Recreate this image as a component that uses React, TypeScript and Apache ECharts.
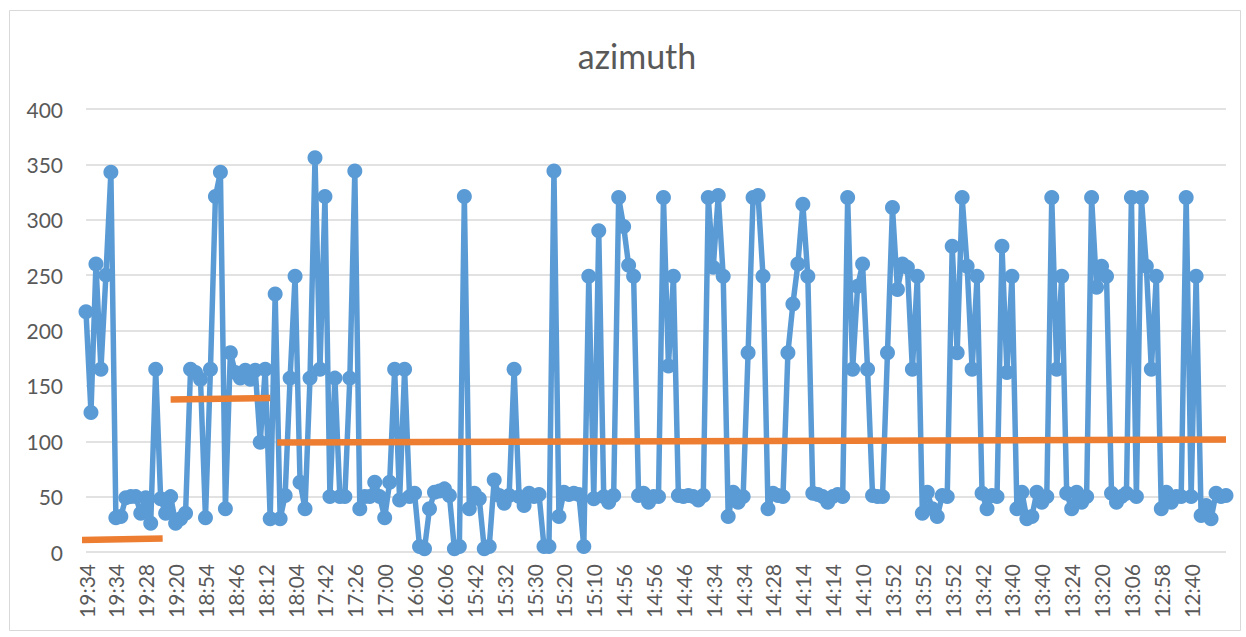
import React, { useEffect, useRef } from "react";
import * as echarts from "echarts";

const tickLabels = [
  "19:34", "19:34", "19:28", "19:20", "18:54", "18:46", "18:12", "18:04", "17:42", "17:26",
  "17:00", "16:06", "16:06", "15:42", "15:32", "15:30", "15:20", "15:10", "14:56", "14:56",
  "14:46", "14:34", "14:34", "14:28", "14:14", "14:14", "14:10", "13:52", "13:52", "13:52",
  "13:42", "13:40", "13:40", "13:24", "13:20", "13:06", "12:58", "12:40",
];
const tickEvery = 6;

const azimuthA = [
  217, 126, 260, 165, 250, 343, 31, 32, 49, 50, 50, 35, 49, 26, 165, 48, 35, 50, 26, 30,
  35, 165, 162, 156, 31, 165, 321, 343, 39, 180, 162, 157, 164, 156, 164, 99,
];
const azimuthB = [
  165, 30, 233, 30, 51, 157, 249, 63, 39, 157, 356, 165, 321, 50, 157, 50, 50, 157, 344, 39,
  50, 50, 63, 50, 31, 63, 165, 47, 165, 50, 53, 5, 3, 39, 54, 55, 57, 51, 3,
];
const azimuthC = [
  5, 321, 39, 53, 48, 3, 5, 65, 51, 44, 51, 165, 50, 42, 53, 50, 52, 5, 5, 344,
  32, 54, 52, 53, 52, 5, 249, 48, 290, 50, 45, 51, 320, 294, 259, 249, 51,
];
const azimuthD = [
  53, 45, 50, 50, 320, 168, 249, 51, 50, 51, 50, 47, 51, 320, 257, 322, 249, 32, 54, 45, 50,
  180, 320, 322, 249, 39, 53, 51, 50, 180, 224, 260, 314, 249, 53, 52, 50, 45, 50, 52,
];
const azimuthE = [
  50, 320, 165, 240, 260, 165, 51, 50, 50, 180, 311, 237, 260, 257, 165, 249, 35, 54, 39, 32,
  51, 50, 276, 180, 320, 258, 165, 249, 53, 39, 51, 50, 276, 162, 249,
];
const azimuthF = [
  39, 54, 30, 32, 54, 45, 50, 320, 165, 249, 53, 39, 54, 45, 50, 320, 239, 258, 249, 53,
  45, 50, 53, 320, 50, 320, 258, 165, 249, 39, 54, 45, 50, 50, 320, 50, 249, 33, 42, 30,
  53, 50, 51,
];
const azimuth = [...azimuthA, ...azimuthB, ...azimuthC, ...azimuthD, ...azimuthE, ...azimuthF];

// trend segments (position in category index units, value)
const trendStartIdx = [-1, 17, 38.4];
const trendEndIdx = [15.4, 37, 229];
const trendStartVal = [10.8, 137.6, 98.8];
const trendEndVal = [12.3, 139, 101.5];

const categories = azimuth.map((_, i) => String(i));

export default function App() {
  const ref = useRef<HTMLDivElement>(null);
  useEffect(() => {
    document.body.style.margin = "0";
    const chart = echarts.init(ref.current!, undefined, { renderer: "svg" });
    const font = "Lato, 'Open Sans', sans-serif";
    const trendSeries = trendStartIdx.map((s, k) => ({
      type: "line",
      xAxisIndex: 1,
      yAxisIndex: 0,
      data: [
        [s, trendStartVal[k]],
        [trendEndIdx[k], trendEndVal[k]],
      ],
      symbol: "none",
      clip: false,
      lineStyle: { color: "#ed7d31", width: 6.5 },
      z: 3,
    }));
    chart.setOption({
      animation: false,
      backgroundColor: "#ffffff",
      title: {
        text: "azimuth",
        left: 632,
        top: 33,
        textAlign: "center",
        textStyle: { fontFamily: font, fontSize: 34, fontWeight: "normal", color: "#595959" },
      },
      graphic: [
        {
          type: "rect",
          shape: { x: 9.5, y: 10.5, width: 1231, height: 620 },
          style: { fill: "none", stroke: "#d9d9d9", lineWidth: 1 },
          silent: true,
        },
      ],
      grid: { left: 86, right: 20, top: 109, bottom: 85, containLabel: false },
      xAxis: [
        {
          type: "category",
          data: categories,
          boundaryGap: false,
          axisLine: { show: false },
          axisTick: { show: false },
          axisLabel: {
            interval: tickEvery - 1,
            rotate: 90,
            margin: 12,
            fontFamily: font,
            fontSize: 21,
            color: "#595959",
            formatter: (_v: string, idx: number) => tickLabels[Math.floor(idx / tickEvery)] ?? "",
          },
          splitLine: { show: false },
        },
        {
          type: "value",
          min: 0,
          max: azimuth.length - 1,
          show: false,
        },
      ],
      yAxis: {
        type: "value",
        min: 0,
        max: 400,
        interval: 50,
        axisLine: { show: false },
        axisTick: { show: false },
        axisLabel: { margin: 23, fontFamily: font, fontSize: 21, color: "#595959" },
        splitLine: { lineStyle: { color: "#d9d9d9", width: 1.5 } },
      },
      series: [
        {
          type: "line",
          name: "azimuth",
          data: azimuth,
          xAxisIndex: 0,
          symbol: "circle",
          symbolSize: 15,
          showAllSymbol: true,
          lineStyle: { color: "#5b9bd5", width: 5.5 },
          itemStyle: { color: "#5b9bd5" },
          z: 2,
        },
        ...trendSeries,
      ],
    });
    return () => chart.dispose();
  }, []);
  return <div ref={ref} style={{ width: 1246, height: 637 }} />;
}
